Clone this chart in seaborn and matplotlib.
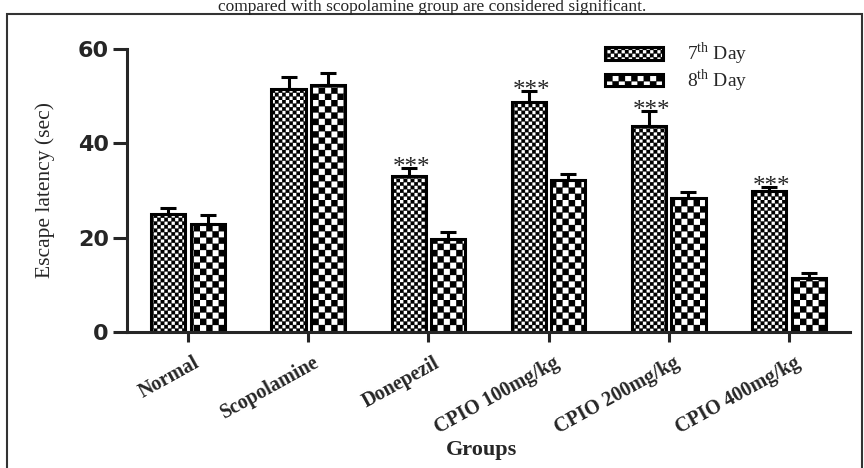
import numpy as np
import pandas as pd
import seaborn as sns
import matplotlib.pyplot as plt
import matplotlib.hatch as mhatch
from matplotlib.path import Path
from matplotlib.patches import Patch, Rectangle
from matplotlib.transforms import ScaledTranslation

groups = ["Normal", "Scopolamine", "Donepezil", "CPIO 100mg/kg", "CPIO 200mg/kg", "CPIO 400mg/kg"]
day7 = [25.0, 51.6, 33.1, 48.7, 43.7, 29.8]
day7_sem = [1.3, 2.5, 1.7, 2.4, 3.1, 0.9]
day8 = [22.8, 52.4, 19.8, 32.2, 28.5, 11.4]
day8_sem = [1.9, 2.5, 1.3, 1.3, 1.2, 1.1]
stars7 = ["", "", "***", "***", "***", "***"]
days = ["7th Day", "8th Day"]
day_labels = [r"7$^{\mathrm{th}}$ Day", r"8$^{\mathrm{th}}$ Day"]


# checkerboard hatches: 'o' = fine checks, 'O' = coarse checks
class Checker(mhatch.HatchPatternBase):
    char = "o"
    cells = 28

    def __init__(self, hatch, density):
        self.num_vertices = (self.cells * self.cells // 2) * 5 if self.char in hatch else 0

    def set_vertices_and_codes(self, vertices, codes):
        s = 1.0 / self.cells
        k = 0
        for i in range(self.cells):
            for j in range(self.cells):
                if (i + j) % 2:
                    continue
                x0, y0 = i * s, j * s
                vertices[k:k + 5] = [[x0, y0], [x0 + s, y0], [x0 + s, y0 + s], [x0, y0 + s], [x0, y0]]
                codes[k:k + 5] = [Path.MOVETO, Path.LINETO, Path.LINETO, Path.LINETO, Path.CLOSEPOLY]
                k += 5


class CheckerBig(Checker):
    char = "O"
    cells = 16


mhatch._hatch_types = [CheckerBig, Checker] + [h for h in mhatch._hatch_types
                                               if h.__name__ not in ("SmallCircles", "LargeCircles")]

sns.set_style("ticks")
plt.rcParams["font.family"] = ["Liberation Serif", "DejaVu Serif"]
plt.rcParams["mathtext.fontset"] = "custom"
plt.rcParams["mathtext.rm"] = "Liberation Serif"
plt.rcParams["hatch.linewidth"] = 0.2

df = pd.DataFrame({
    "Group": groups * 2,
    "Latency": day7 + day8,
    "Day": [days[0]] * len(groups) + [days[1]] * len(groups),
})

fig = plt.figure(figsize=(8.64, 4.68), dpi=100)
ax = fig.add_axes([127 / 864, 1 - 332 / 468, 723 / 864, 283 / 468])

sns.barplot(data=df, x="Group", y="Latency", hue="Day", order=groups, hue_order=days,
            width=0.66, gap=0.14, errorbar=None, legend=False, ax=ax)

hatches = ["o", "O"]
sems = [day7_sem, day8_sem]
vals = [day7, day8]
bar_conts = list(ax.containers)
for c, cont in enumerate(bar_conts):
    xs = []
    for bar in cont:
        bar.set_facecolor("white")
        bar.set_edgecolor("black")
        bar.set_linewidth(2.2)
        bar.set_hatch(hatches[c])
        xs.append(bar.get_x() + bar.get_width() / 2)
    ax.errorbar(xs, vals[c], yerr=[np.zeros(len(xs)), sems[c]], fmt="none", ecolor="black",
                elinewidth=2.2, capsize=6, capthick=2.2, zorder=4, clip_on=False)
    if c == 0:
        for x, v, e, s in zip(xs, vals[c], sems[c], stars7):
            if s:
                ax.annotate(s, (x, v + e), xytext=(2, 0), textcoords="offset points",
                            ha="center", va="center", fontsize=18, family="Liberation Serif")

ax.set_xlim(-0.51, len(groups) - 0.49)
ax.set_ylim(0, 60)
ax.set_yticks([0, 20, 40, 60])
sns.despine(ax=ax)
for side in ["left", "bottom"]:
    ax.spines[side].set_linewidth(2.2)

ax.tick_params(axis="y", length=10, width=2.2, pad=3, labelsize=16)
ax.tick_params(axis="x", length=7, width=2.2, pad=8)
for lab in ax.get_yticklabels():
    lab.set_family("DejaVu Sans")
    lab.set_fontweight("bold")
ax.set_xticks(range(len(groups)))
ax.set_xticklabels(groups, rotation=29, ha="right", va="top", rotation_mode="anchor",
                   fontsize=14.5, fontweight="bold")
shift = ScaledTranslation(0.05, 0, fig.dpi_scale_trans)
for lab in ax.get_xticklabels():
    lab.set_transform(lab.get_transform() + shift)

ax.set_ylabel("Escape latency (sec)", fontsize=15.5)
ax.yaxis.set_label_coords(-0.10, 0.5)
ax.set_xlabel("Groups", fontsize=16, fontweight="bold")
ax.xaxis.set_label_coords(0.49, -0.38)

handles = [Patch(facecolor="white", edgecolor="black", lw=2.2, hatch=h) for h in hatches]
ax.legend(handles, day_labels, loc="upper left", bbox_to_anchor=(0.661, 1.03), frameon=False,
          borderpad=0, borderaxespad=0, handlelength=3.0, handleheight=0.6, handletextpad=1.2,
          labelspacing=0.0, prop={"family": "Liberation Serif", "size": 14})

fig.text(0.5, 1 - 11 / 468, "compared with scopolamine group are considered significant.",
         ha="center", va="baseline", fontsize=12.5, family="Liberation Serif")
fig.add_artist(Rectangle((7 / 864, -0.05), 855 / 864, 1.05 - 14 / 468, transform=fig.transFigure,
                         fill=False, lw=1.5, edgecolor="#333333"))

fig.savefig("out.png", dpi=100)
